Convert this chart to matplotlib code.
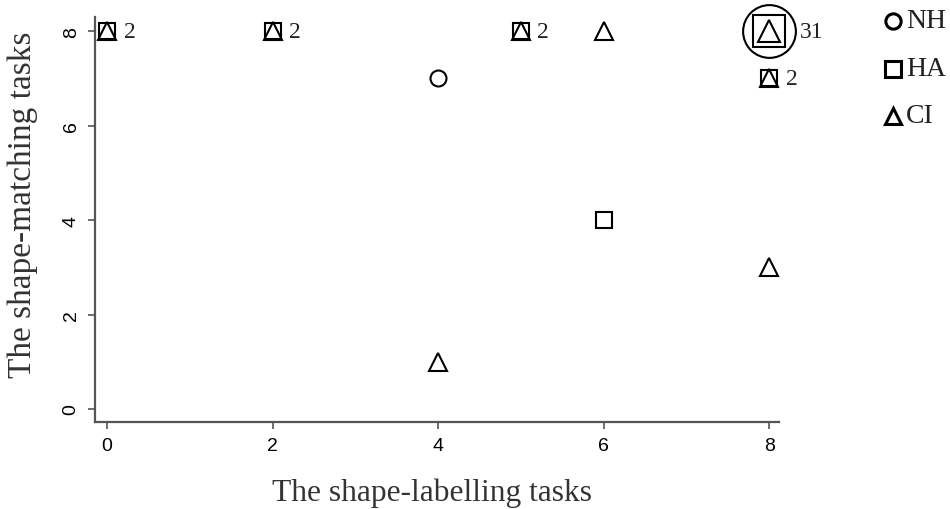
## scatter of shape-matching vs shape-labelling task scores, markers by group
import numpy as np
import matplotlib.pyplot as plt
from matplotlib.lines import Line2D

## data
nh_x = [4, 8]
nh_y = [7, 8]
ha_x = [0, 2, 5, 6, 8, 8]
ha_y = [8, 8, 8, 4, 8, 7]
ci_x = [0, 2, 5, 6, 8, 8, 8, 4]
ci_y = [8, 8, 8, 8, 8, 7, 3, 1]
cnt_x = [0, 2, 5, 8, 8]
cnt_y = [8, 8, 8, 8, 7]
cnt   = [2, 2, 2, 31, 2]
groups = ['NH', 'HA', 'CI']
xticks = [0, 2, 4, 6, 8]
yticks = [0, 2, 4, 6, 8]

## marker sizes [pt], the big one is the 31-case point
nh_ms = [11.5, 38]
ha_ms = [11.5, 11.5, 11.5, 11.5, 23, 11.5]
ci_ms = [12.5, 12.5, 12.5, 12.5, 16.5, 12.5, 12.5, 12.5]
cnt_off = [12, 12, 12, 22, 12]

serif = 'Liberation Serif'
sans = 'Liberation Sans'

fig = plt.figure(figsize=(9.5, 5.1), dpi=100)
ax = fig.add_axes([0.1, 0.1706, 0.72, 0.794])

def draw(xs, ys, mk, ms):
    for x, y, m in zip(xs, ys, ms):
        ax.plot(x, y, marker=mk, ms=m, mfc='none', mec='black', mew=1.5,
                ls='none', clip_on=False)

draw(nh_x, nh_y, 'o', nh_ms)
draw(ha_x, ha_y, 's', ha_ms)
draw(ci_x, ci_y, '^', ci_ms)

for x, y, c, o in zip(cnt_x, cnt_y, cnt, cnt_off):
    ax.annotate(str(c), (x, y), xytext=(o, 0), textcoords='offset points',
                va='center', ha='left', fontsize=17, family=serif,
                color='#222222')

ax.set_xlim(-0.145, 8.12)
ax.set_ylim(-0.275, 8.3)
ax.set_xticks(xticks)
ax.set_yticks(yticks)
ax.set_xticklabels([str(t) for t in xticks], fontsize=14, family=sans)
ax.set_yticklabels([str(t) for t in yticks], fontsize=14, family=sans,
                   rotation=90, va='center')
ax.tick_params(length=5, width=1.2, color='#555555', pad=6)
for s in ['top', 'right']:
    ax.spines[s].set_visible(False)
for s in ['left', 'bottom']:
    ax.spines[s].set_color('#555555')
    ax.spines[s].set_linewidth(1.6)

ax.set_xlabel('The shape-labelling tasks', fontsize=22.7, family=serif,
              color='#333333')
ax.set_ylabel('The shape-matching tasks', fontsize=24, family=serif,
              color='#333333')
ax.xaxis.set_label_coords(0.493, -0.138)
ax.yaxis.set_label_coords(-0.083, 0.54)

## legend, drawn by hand outside the axes
marks = ['o', 's', '^']
ly = [1 - 22/510, 1 - 70/510, 1 - 117/510]
for g, m, y in zip(groups, marks, ly):
    fig.add_artist(Line2D([893/950], [y], marker=m, ms=11, mfc='none',
                          mec='black', mew=2.2, ls='none',
                          transform=fig.transFigure))
    fig.text(906/950, y, g, fontsize=20, family=serif, va='center',
             ha='left', color='#222222')

fig.savefig('out.png', dpi=100)
